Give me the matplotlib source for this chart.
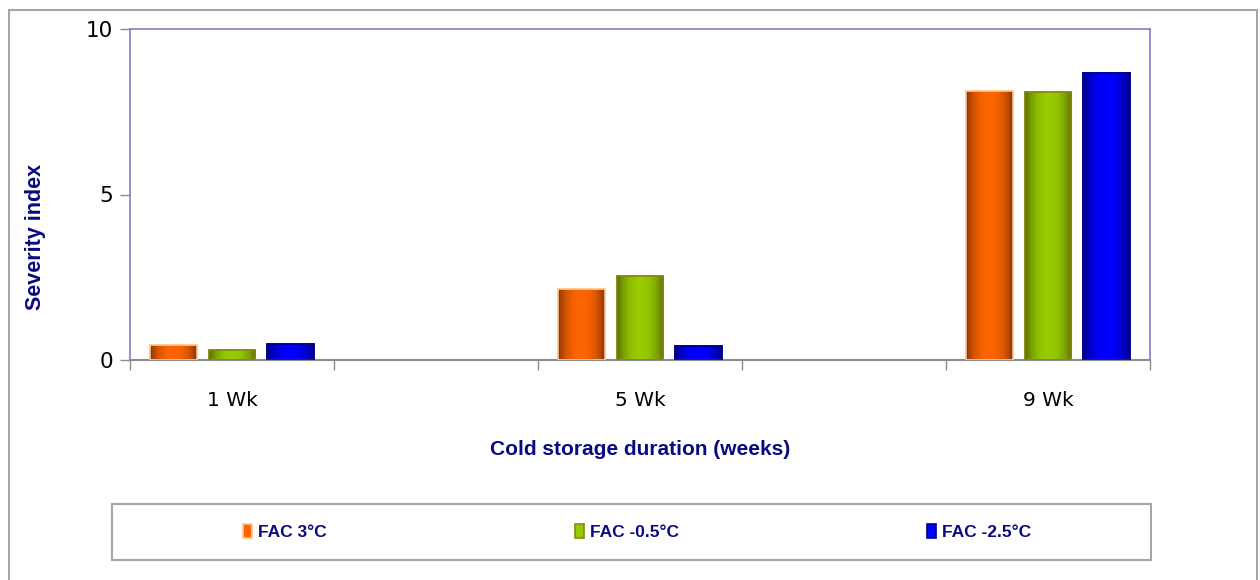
import numpy as np
import matplotlib
matplotlib.use("Agg")
import matplotlib.pyplot as plt
from matplotlib.colors import LinearSegmentedColormap
from matplotlib.patches import Rectangle

# data
categories = ['1 Wk', '', '5 Wk', '', '9 Wk']
series = ['FAC 3°C', 'FAC -0.5°C', 'FAC -2.5°C']
fac_3 = [0.45, None, 2.13, None, 8.14]
fac_m05 = [0.31, None, 2.54, None, 8.11]
fac_m25 = [0.48, None, 0.42, None, 8.67]
values = [fac_3, fac_m05, fac_m25]
yticks = [0, 5, 10]

# (dark edge, bright centre, outline)
styles = [('#7a2e00', '#ff6600', '#ffc896'),
          ('#4e6000', '#99cc00', '#8a8a10'),
          ('#000070', '#0000ff', '#000090')]

navy = '#0a0a80'
title_font = ['Liberation Sans Narrow', 'Liberation Sans', 'DejaVu Sans']

fig = plt.figure(figsize=(12.6, 5.8), dpi=100)
ax = fig.add_axes([130 / 1260, 1 - 360 / 580, 1020 / 1260, 331 / 580])

width = 0.23
step = 0.287
profile = np.sin(np.pi * np.linspace(0, 1, 64)) ** 0.6
grad = profile.reshape(1, -1)

for s, vals in enumerate(values):
    dark, bright, edge = styles[s]
    cmap = LinearSegmentedColormap.from_list('c%d' % s, [dark, bright])
    for i, v in enumerate(vals):
        if v is None:
            continue
        x = i + (s - 1) * step
        bar = ax.bar(x, v, width=width, color=bright, edgecolor=edge,
                     linewidth=1.2, zorder=2)[0]
        im = ax.imshow(grad, extent=[x - width / 2, x + width / 2, 0, v],
                       aspect='auto', cmap=cmap, vmin=0, vmax=1, zorder=2.5)
        im.set_clip_path(bar)
        ax.add_patch(Rectangle((x - width / 2, 0), width, v, fill=False,
                               edgecolor=edge, linewidth=1.2, zorder=3))

ax.set_xlim(-0.5, len(categories) - 0.5)
ax.set_ylim(0, 10)
ax.set_yticks(yticks)
ax.set_xticks(range(len(categories)))
ax.set_xticklabels(categories, fontsize=14.5)
ax.set_xticks(np.arange(-0.5, len(categories), 1), minor=True)
ax.tick_params(axis='x', which='major', length=0, pad=22)
ax.tick_params(axis='x', which='minor', length=7, color='#8c8c8c', width=1)
ax.tick_params(axis='y', length=7, color='#8c8c8c', width=1, labelsize=15.5, pad=5)

for side in ['left', 'top', 'right']:
    ax.spines[side].set_color('#8080c0')
    ax.spines[side].set_linewidth(1.2)
ax.spines['bottom'].set_color('#8c8c8c')
ax.spines['bottom'].set_linewidth(1.5)

ax.set_xlabel('Cold storage duration (weeks)', fontsize=15, fontweight='bold',
              color=navy, family=title_font, labelpad=22)
fig.text(36 / 1260, 1 - 237 / 580, 'Severity index', rotation=90, fontsize=15.5,
         fontweight='bold', color=navy, family=title_font, ha='center', va='center')

# legend
handles = [Rectangle((0, 0), 1, 1, facecolor=st[1], edgecolor=st[2], linewidth=1.2)
           for st in styles]
leg = fig.legend(handles, series, loc='center', bbox_to_anchor=(637 / 1260, 1 - 532 / 580),
                 ncol=3, frameon=False, handlelength=0.5, handleheight=0.9,
                 handletextpad=0.35, columnspacing=14.3,
                 prop={'family': title_font, 'weight': 'bold', 'size': 12.5})
for t in leg.get_texts():
    t.set_color(navy)

# legend box and outer chart border
fig.add_artist(Rectangle((112 / 1260, 1 - 560 / 580), 1039 / 1260, 56 / 580,
                         transform=fig.transFigure, fill=False,
                         edgecolor='#a6a6a6', linewidth=1.5))
fig.add_artist(Rectangle((9 / 1260, -0.05), 1248 / 1260, 1.05 - 10 / 580,
                         transform=fig.transFigure, fill=False,
                         edgecolor='#a6a6a6', linewidth=1.5))

fig.savefig('out.png', dpi=100)
